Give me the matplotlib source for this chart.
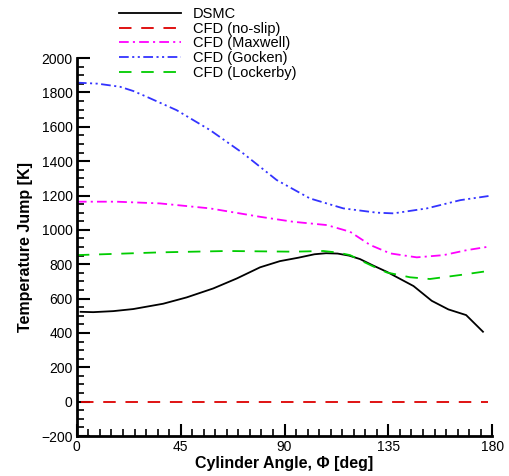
import matplotlib
matplotlib.use("Agg")
import matplotlib.pyplot as plt
from matplotlib.ticker import MultipleLocator

plt.rcParams['font.family'] = ['Liberation Sans', 'DejaVu Sans']
plt.rcParams['lines.scale_dashes'] = False

# DSMC
dsmc_x = [1.6, 7.1, 15.8, 24.4, 37.4, 47.6, 59.1, 69.3, 79.4, 88, 96, 103, 108, 113,
          118, 122.7, 128, 134.3, 145.9, 153.8, 161, 168.7, 176]
dsmc_y = [523, 521, 527, 539, 570, 607, 659, 717, 782, 818, 838, 858, 864, 862,
          850, 830, 795, 756, 673, 587, 537, 504, 407]

# CFD no-slip
noslip_x = [2, 178]
noslip_y = [0, 0]

# CFD Maxwell
maxwell_x = [0, 17.2, 36, 57.7, 79.4, 93.8, 108.3, 118.4, 127.1, 135.8, 147.3, 158.9, 169, 178.4]
maxwell_y = [1164, 1164, 1154, 1125, 1076, 1047, 1028, 989, 912, 863, 840, 853, 882, 902]

# CFD Gocken
gocken_x = [0, 9, 18.7, 24.5, 30.2, 43.2, 57.7, 72.1, 86.6, 101, 115.5, 130, 137.2, 151.7, 166.2, 178.4]
gocken_y = [1857, 1851, 1833, 1808, 1775, 1697, 1581, 1445, 1290, 1183, 1125, 1100, 1096, 1125, 1173, 1197]

# CFD Lockerby
lock_x = [0, 36, 65, 93.8, 106.8, 113, 118.4, 122.7, 128, 134.3, 144.4, 153, 166, 179]
lock_y = [853, 869, 877, 873, 877, 868, 853, 824, 790, 752, 724, 714, 737, 762]

fig = plt.figure(figsize=(5.09, 4.76), dpi=100)
ax = fig.add_axes([0.151, 0.084, 0.816, 0.794])

ax.plot(dsmc_x, dsmc_y, color='black', lw=1.3, label='DSMC')
ax.plot(noslip_x, noslip_y, color='#dd0000', lw=1.3, ls=(0, (9, 7)), label='CFD (no-slip)')
ax.plot(maxwell_x, maxwell_y, color='#ff00ff', lw=1.3, ls=(0, (7, 3, 1.5, 3)), label='CFD (Maxwell)')
ax.plot(gocken_x, gocken_y, color='#3333ff', lw=1.3, ls=(0, (7, 2.5, 1.5, 2.5, 1.5, 2.5)), label='CFD (Gocken)')
ax.plot(lock_x, lock_y, color='#00cc00', lw=1.3, ls=(0, (9, 7)), label='CFD (Lockerby)')

ax.set_xlim(0, 180)
ax.set_ylim(-200, 2000)
ax.xaxis.set_major_locator(MultipleLocator(45))
ax.xaxis.set_minor_locator(MultipleLocator(5))
ax.yaxis.set_major_locator(MultipleLocator(200))
ax.yaxis.set_minor_locator(MultipleLocator(50))

for s in ['top', 'right']:
    ax.spines[s].set_visible(False)
for s in ['left', 'bottom']:
    ax.spines[s].set_linewidth(2)

ax.tick_params(which='major', direction='in', length=9, width=1.5, labelsize=10, pad=3)
ax.tick_params(which='minor', direction='in', length=5, width=1.2)

ax.set_xlabel('Cylinder Angle, \u03a6 [deg]', fontsize=11.5, fontweight='bold', labelpad=1)
ax.set_ylabel('Temperature Jump [K]', fontsize=11.5, fontweight='bold', labelpad=6)

fig.legend(loc='upper left', bbox_to_anchor=(0.21, 1.01), frameon=False, fontsize=10.5,
           handlelength=4.3, labelspacing=0.05, handletextpad=0.8, borderpad=0.3)

fig.savefig('out.png', dpi=100)
